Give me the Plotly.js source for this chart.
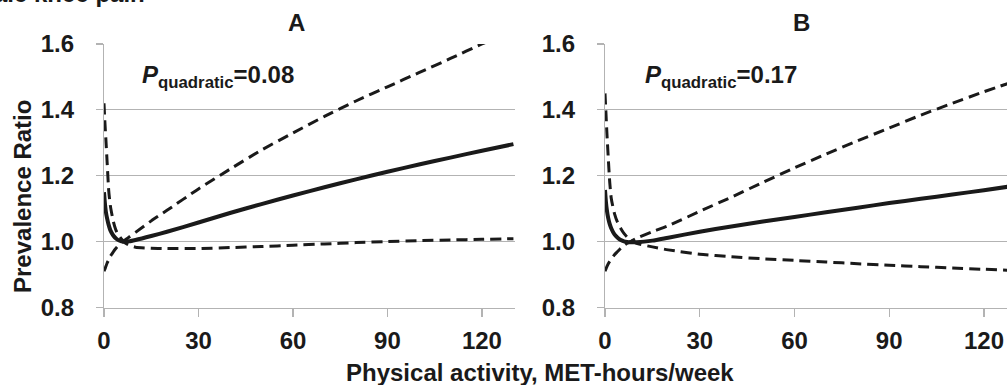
<!DOCTYPE html>
<html>
<head>
<meta charset="utf-8">
<script src="https://cdn.plot.ly/plotly-3.0.1.min.js"></script>
<style>html,body{margin:0;padding:0;background:#fff;}#chart{width:1007px;height:385px;}</style>
</head>
<body>
<div id="chart"></div>
<script>
// Physical activity (MET-hours/week) sample points
const activityX = [0, 0.3, 0.6, 1, 1.5, 2, 3, 4, 5, 6, 7, 8, 10, 15, 20, 30, 40, 50, 60, 70, 80, 90, 100, 110, 120, 130];

// Panel A
const estimateA = [1.15, 1.115, 1.09, 1.07, 1.05, 1.035, 1.018, 1.008, 1.003, 1.0, 1.0, 1.001, 1.005, 1.017, 1.03, 1.058, 1.087, 1.114, 1.14, 1.165, 1.189, 1.212, 1.234, 1.255, 1.276, 1.296];
const boundA1 = [1.42, 1.36, 1.31, 1.24, 1.155, 1.11, 1.06, 1.03, 1.015, 1.003, 0.994, 0.989, 0.983, 0.98, 0.979, 0.979, 0.982, 0.985, 0.989, 0.993, 0.997, 1.0, 1.003, 1.005, 1.007, 1.009];
const boundA2 = [0.91, 0.917, 0.925, 0.935, 0.945, 0.955, 0.97, 0.982, 0.992, 1.0, 1.007, 1.014, 1.028, 1.063, 1.095, 1.16, 1.22, 1.278, 1.33, 1.38, 1.427, 1.47, 1.513, 1.556, 1.6, 1.64];

// Panel B
const estimateB = [1.157, 1.12, 1.095, 1.072, 1.053, 1.04, 1.022, 1.012, 1.005, 1.001, 0.999, 0.998, 0.998, 1.003, 1.012, 1.03, 1.046, 1.061, 1.075, 1.089, 1.103, 1.117, 1.13, 1.143, 1.156, 1.17];
const boundB1 = [1.45, 1.39, 1.33, 1.26, 1.18, 1.13, 1.085, 1.058, 1.04, 1.025, 1.014, 1.006, 0.995, 0.984, 0.975, 0.962, 0.954, 0.948, 0.943, 0.938, 0.933, 0.928, 0.924, 0.92, 0.916, 0.912];
const boundB2 = [0.91, 0.917, 0.924, 0.932, 0.94, 0.947, 0.96, 0.97, 0.98, 0.988, 0.995, 1.0, 1.01, 1.03, 1.048, 1.092, 1.135, 1.18, 1.224, 1.266, 1.306, 1.345, 1.384, 1.42, 1.455, 1.488];

const xTicks = [0, 30, 60, 90, 120];
const yTicks = [0.8, 1.0, 1.2, 1.4, 1.6];
const yTickText = ['0.8', '1.0', '1.2', '1.4', '1.6'];
const panelLabels = ['A', 'B'];
const pValues = ['0.08', '0.17'];

const FONT = 'Liberation Sans, Arial, Helvetica, sans-serif';
const INK = '#1a1a1a';
const GRID = '#b3b3b3';

function solid(x, y, xa, ya) {
  return {x: x, y: y, xaxis: xa, yaxis: ya, type: 'scatter', mode: 'lines',
    line: {color: INK, width: 4, shape: 'spline', smoothing: 0.6}, hoverinfo: 'skip', showlegend: false};
}
function dashed(x, y, xa, ya) {
  return {x: x, y: y, xaxis: xa, yaxis: ya, type: 'scatter', mode: 'lines',
    line: {color: INK, width: 3, dash: '11px,6px', shape: 'spline', smoothing: 0.6}, hoverinfo: 'skip', showlegend: false};
}

const data = [
  dashed(activityX, boundA1, 'x', 'y'),
  dashed(activityX, boundA2, 'x', 'y'),
  solid(activityX, estimateA, 'x', 'y'),
  dashed(activityX, boundB1, 'x2', 'y2'),
  dashed(activityX, boundB2, 'x2', 'y2'),
  solid(activityX, estimateB, 'x2', 'y2')
];

const W = 1007, H = 385;
const yDom = [(H - 307.5) / H, (H - 44) / H];

function xAxis(domain, range) {
  return {domain: domain, range: range, tickvals: xTicks, ticktext: xTicks.map(String),
    showline: true, linecolor: GRID, linewidth: 1.2, showgrid: false, zeroline: false,
    ticks: 'outside', ticklen: 8, tickcolor: GRID, tickwidth: 1.2, ticklabelstandoff: 3,
    tickfont: {family: FONT, size: 24, color: INK, weight: 'bold'}, automargin: false, fixedrange: true};
}
function yAxis(anchor) {
  return {domain: yDom, range: [0.8, 1.6], anchor: anchor, tickvals: yTicks, ticktext: yTickText,
    showline: true, linecolor: GRID, linewidth: 1.2, showgrid: true, gridcolor: GRID, gridwidth: 1.2, zeroline: false,
    ticks: 'outside', ticklen: 7, tickcolor: GRID, tickwidth: 1.2, ticklabelstandoff: 17,
    tickfont: {family: FONT, size: 24, color: INK, weight: 'bold'}, automargin: false, fixedrange: true};
}

const bold24 = {family: FONT, size: 24, color: INK, weight: 'bold'};

const layout = {
  width: W, height: H,
  margin: {l: 0, r: 0, t: 0, b: 0},
  paper_bgcolor: '#ffffff', plot_bgcolor: '#ffffff',
  xaxis: xAxis([104 / W, 515 / W], [0, 130.5]),
  yaxis: yAxis('x'),
  xaxis2: xAxis([605 / W, 1], [0, 127.3]),
  yaxis2: yAxis('x2'),
  showlegend: false,
  annotations: [
    {xref: 'paper', yref: 'paper', x: 147 / W, y: (H + 6.5) / H, xanchor: 'right', yanchor: 'middle',
      text: 'Male knee pain', showarrow: false, font: bold24},
    {xref: 'paper', yref: 'paper', x: 296 / W, y: (H - 22) / H, xanchor: 'center', yanchor: 'middle',
      text: panelLabels[0], showarrow: false, font: bold24},
    {xref: 'paper', yref: 'paper', x: 801 / W, y: (H - 22) / H, xanchor: 'center', yanchor: 'middle',
      text: panelLabels[1], showarrow: false, font: bold24},
    {xref: 'x', yref: 'y', x: 11.4, y: 1.5, xanchor: 'left', yanchor: 'middle',
      text: '<i>P</i><sub>quadratic</sub>=' + pValues[0], showarrow: false, font: bold24},
    {xref: 'x2', yref: 'y2', x: 12, y: 1.5, xanchor: 'left', yanchor: 'middle',
      text: '<i>P</i><sub>quadratic</sub>=' + pValues[1], showarrow: false, font: bold24},
    {xref: 'paper', yref: 'paper', x: 540 / W, y: (H - 372) / H, xanchor: 'center', yanchor: 'middle',
      text: 'Physical activity, MET-hours/week', showarrow: false, font: bold24},
    {xref: 'paper', yref: 'paper', x: 22 / W, y: (H - 197) / H, xanchor: 'center', yanchor: 'middle',
      text: 'Prevalence Ratio', textangle: -90, showarrow: false, font: bold24}
  ]
};

Plotly.newPlot('chart', data, layout, {displayModeBar: false, staticPlot: true});
</script>
</body>
</html>
